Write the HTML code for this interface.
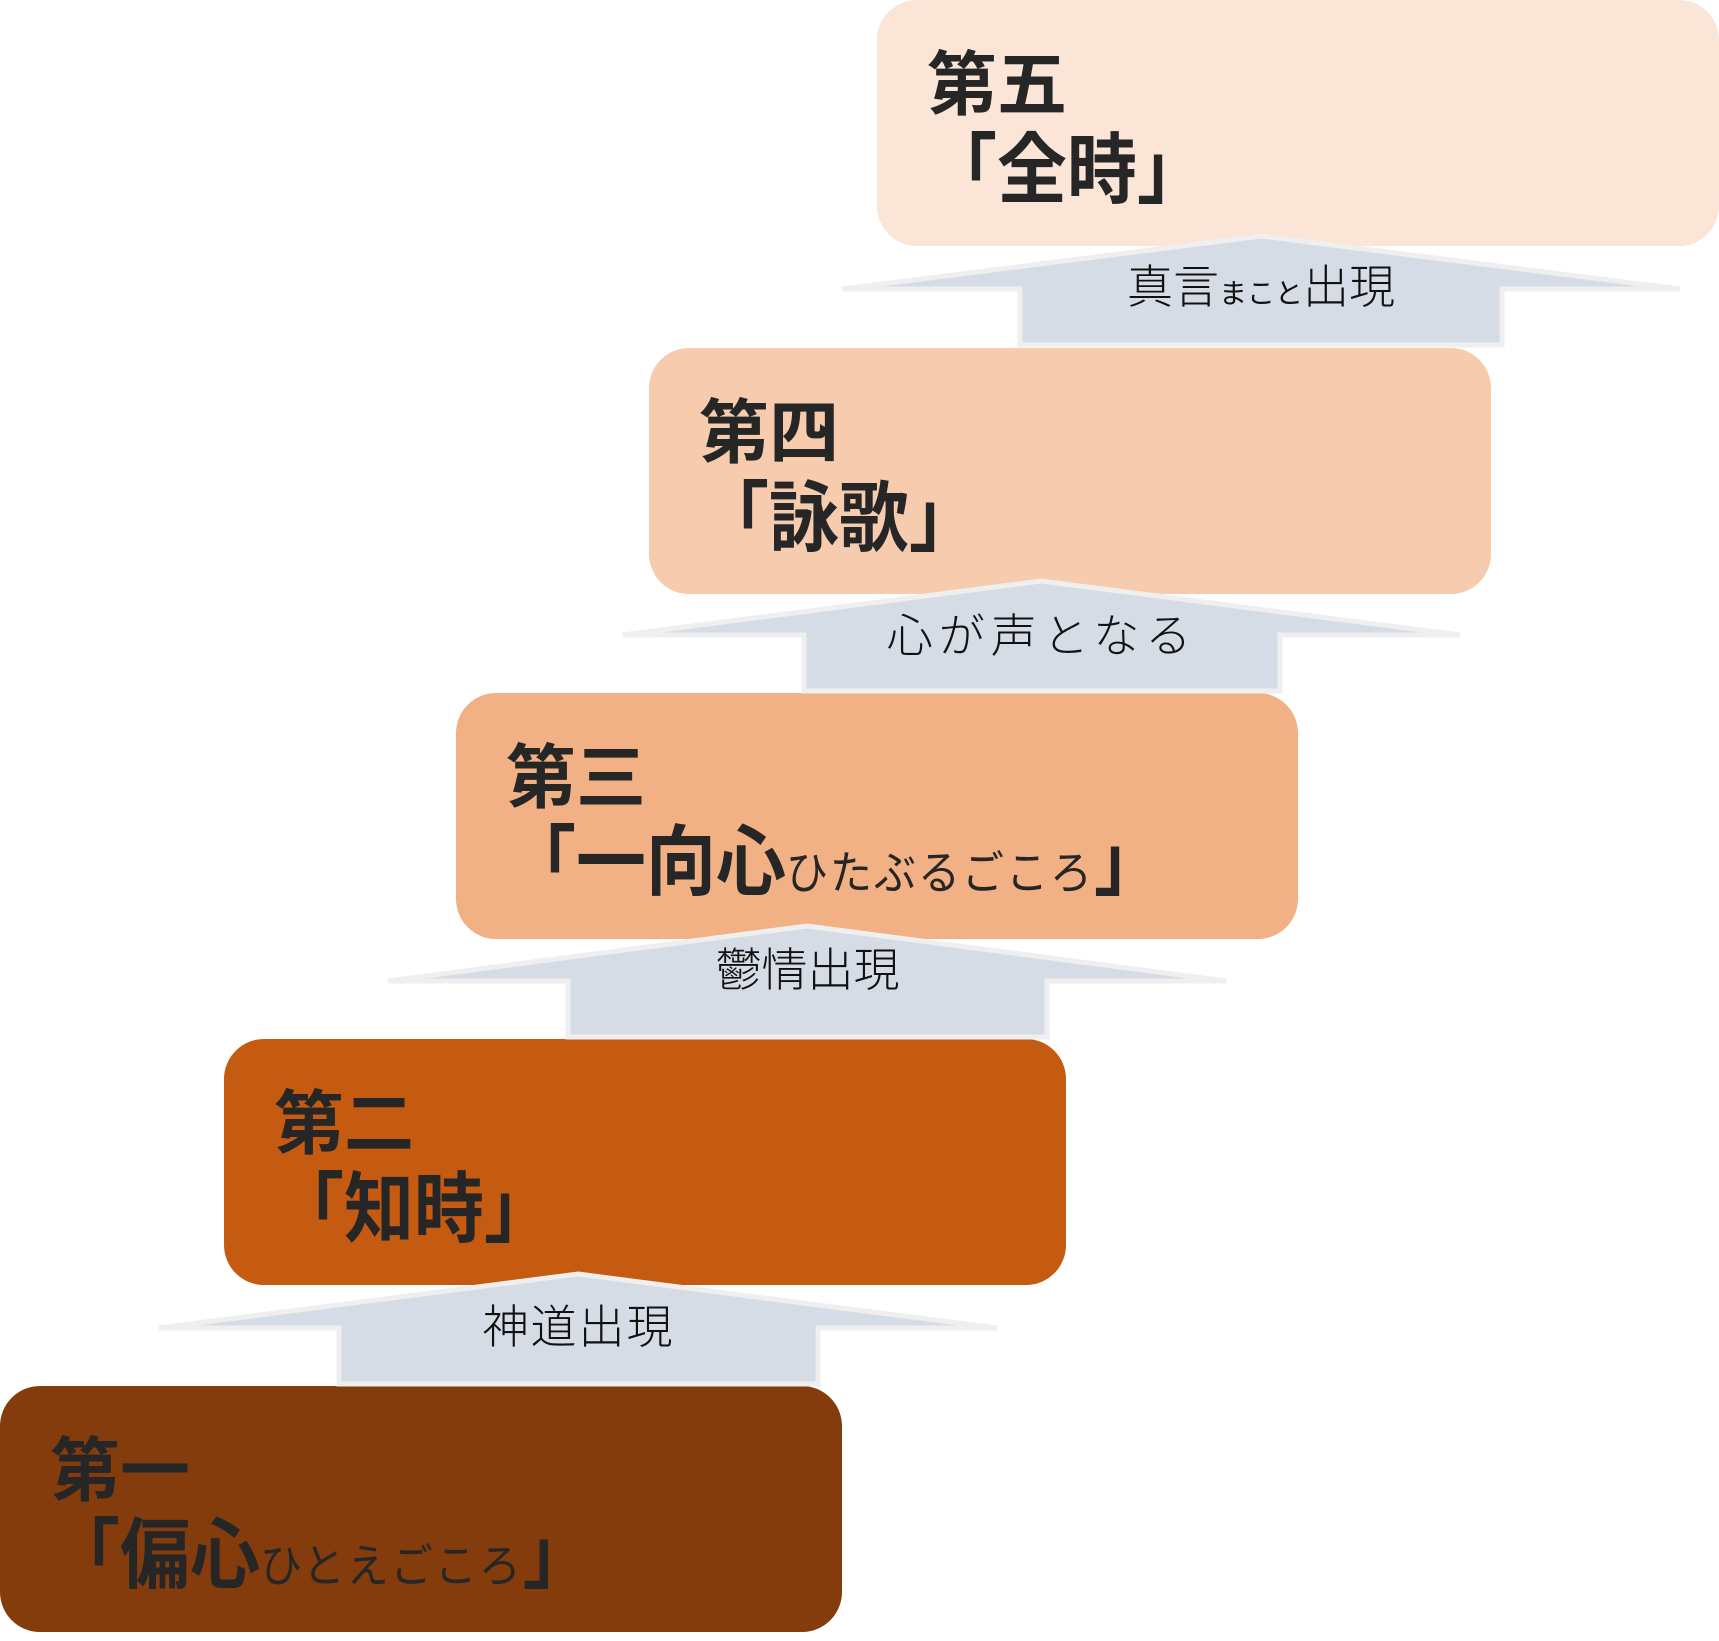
<!DOCTYPE html>
<html><head><meta charset="utf-8"><style>
html,body{margin:0;padding:0;background:#fff;}
body{width:1719px;height:1641px;position:relative;overflow:hidden;font-family:"Liberation Sans","Noto Sans CJK JP",sans-serif;}
.box{position:absolute;width:842px;height:246px;border-radius:40px;box-sizing:border-box;padding:40px 0 0 50px;color:#262626;font-weight:bold;font-size:70px;line-height:90px;}
.box .l2{margin-left:0px;display:inline-block;transform:scaleY(1.1);transform-origin:left bottom;}
.sm{font-size:42px;font-weight:normal;letter-spacing:2px;}
svg{position:absolute;left:0;top:0;}
.lab{position:absolute;font-size:46px;color:#111;text-align:center;line-height:50px;white-space:nowrap;font-weight:300;}
.lab .sm{font-size:28px;letter-spacing:0;}
</style></head><body>
<div class="box" style="left:877px;top:0;background:#FAE5D7;">第五<br><span class="l2">「全時」</span></div>
<div class="box" style="left:649px;top:348px;background:#F7CBAD;">第四<br><span class="l2">「詠歌」</span></div>
<div class="box" style="left:456px;top:693px;background:#F2B184;">第三<br><span class="l2">「一向心<span class="sm">ひたぶるごころ</span>」</span></div>
<div class="box" style="left:224px;top:1039px;background:#C55A11;">第二<br><span class="l2">「知時」</span></div>
<div class="box" style="left:0;top:1386px;background:#843C0C;">第一<br><span class="l2">「偏心<span class="sm">ひとえごころ</span>」</span></div>
<svg width="1719" height="1641">
<g fill="#D6DCE5" stroke="#EFEFEF" stroke-width="5" stroke-linejoin="miter">
<polygon points="1261,236 1680,289 1502,289 1502,345 1020,345 1020,289 842,289"/>
<polygon points="1041,581 1460,635 1280,635 1280,691 804,691 804,635 623,635"/>
<polygon points="807,926 1226,981 1047,981 1047,1037 568,1037 568,981 388,981"/>
<polygon points="578,1274 997,1328 818,1328 818,1384 339,1384 339,1328 159,1328"/>
</g>
</svg>
<div class="lab" style="left:1020px;width:482px;top:262px;">真言<span class="sm">まこと</span>出現</div>
<div class="lab" style="left:804px;width:476px;top:611px;letter-spacing:6px;">心が声となる</div>
<div class="lab" style="left:568px;width:479px;top:945px;">鬱情出現</div>
<div class="lab" style="left:339px;width:479px;top:1302px;letter-spacing:2px;">神道出現</div>
</body></html>
